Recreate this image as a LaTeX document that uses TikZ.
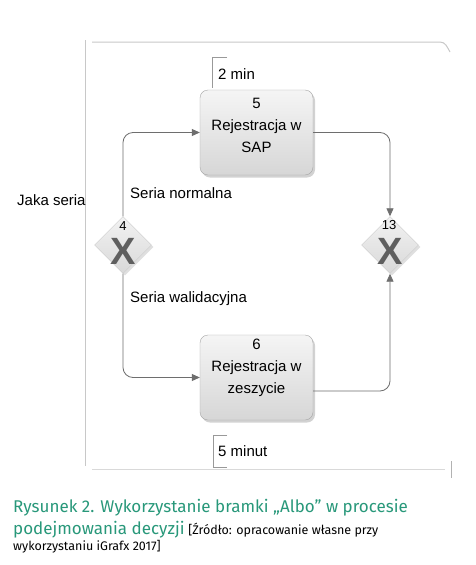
\documentclass[tikz,border=0pt]{standalone}
\usepackage{fontspec}
\setmainfont{Liberation Sans}
\newfontfamily\capfont{Fira Sans}
\usetikzlibrary{shapes.geometric,shadows,arrows.meta}
\definecolor{capgreen}{RGB}{40,152,122}
\definecolor{linegray}{RGB}{110,110,110}
\definecolor{framegray}{RGB}{200,200,200}
\definecolor{xgray}{RGB}{95,95,95}
\tikzset{
  taskbox/.style={draw=gray!70, rounded corners=8pt, minimum width=113pt, minimum height=85pt,
    top color=gray!8, bottom color=gray!32, inner sep=0pt,
    drop shadow={shadow xshift=2pt, shadow yshift=-2.5pt, opacity=0.35}},
  boxtext/.style={align=center, font=\fontsize{15}{22}\selectfont, inner sep=0pt},
  gate/.style={diamond, aspect=1, minimum width=57pt, minimum height=57pt, inner sep=0pt,
    draw=gray!40, top color=gray!10, bottom color=gray!30,
    drop shadow={shadow xshift=2pt, shadow yshift=-2pt, opacity=0.25}},
  gatenum/.style={font=\fontsize{13}{15}\selectfont, inner sep=0pt},
  xmark/.style={text=xgray, font=\bfseries\fontsize{38}{38}\selectfont, inner sep=0pt},
  flow/.style={draw=linegray, line width=0.8pt, rounded corners=10pt,
    -{Triangle[width=7pt,length=8pt]}},
  lbl/.style={font=\fontsize{15}{18}\selectfont, inner sep=0pt, anchor=base west},
  bracket/.style={draw=gray!80, line width=0.7pt},
  frame/.style={draw=framegray, line width=1pt},
  captxt/.style={anchor=base west, inner sep=0pt, text=capgreen, font=\capfont\fontsize{17}{20}\selectfont},
  srctxt/.style={anchor=base west, inner sep=0pt, font=\capfont\fontsize{12.5}{15}\selectfont},
}
\begin{document}
\begin{tikzpicture}[x=1pt,y=-1pt]
\useasboundingbox[fill=white] (0,0) rectangle (476,565);
% frame
\draw[frame] (85,40) -- (85,466);
\draw[frame] (92,42) -- (440,42) to[out=0,in=120] (450,52);
\draw[frame, draw=framegray!70] (92,469) -- (445,469);
\draw[frame, draw=gray!60] (451,461) -- (451,478);
% tasks
\node[taskbox] (t5) at (256.5,132.5) {};
\node[boxtext] (t5l) at (256.5,125) {5\\Rejestracja w\\SAP};
\node[taskbox] (t6) at (256.5,377.5) {};
\node[boxtext] (t6l) at (256.5,368) {6\\Rejestracja w\\zeszycie};
% gateways
\node[gate] (g4) at (123,245) {};
\node[xmark, anchor=base] (x4) at (123,264) {X};
\node[gatenum] (g4n) at (123,226) {4};
\node[gate] (g13) at (390,245) {};
\node[xmark, anchor=base] (x13) at (390,264) {X};
\node[gatenum] (g13n) at (389,225) {13};
% flows
\draw[flow] (g4.north) |- (t5.west);
\draw[flow] (g4.south) |- (t6.west);
\draw[flow] (t5.east) -| (g13.north);
\draw[flow] ([yshift=-13.5pt]t6.east) -| (g13.south);
% labels
\node[lbl] (ln) at (130,198) {Seria normalna};
\node[lbl] (lw) at (130,302) {Seria walidacyjna};
\node[lbl] (lj) at (17,205) {Jaka seria};
% annotations
\draw[bracket] (227,57) -- (212,57) -- (212,88);
\node[lbl] (a2) at (218,79) {2 min};
\draw[bracket] (227,435) -- (213,435) -- (213,467) -- (227,467);
\node[lbl] (a5) at (218,456) {5 minut};
% caption
\node[captxt] (c1) at (13,512) {Rysunek 2. Wykorzystanie bramki „Albo” w procesie};
\node[captxt] (c2) at (13,534) {podejmowania decyzji};
\node[srctxt] (c3) at (c2.base east) {\ [Źródło: opracowanie własne przy};
\node[srctxt] (c4) at (13,550) {wykorzystaniu iGrafx 2017]};
\end{tikzpicture}
\end{document}
